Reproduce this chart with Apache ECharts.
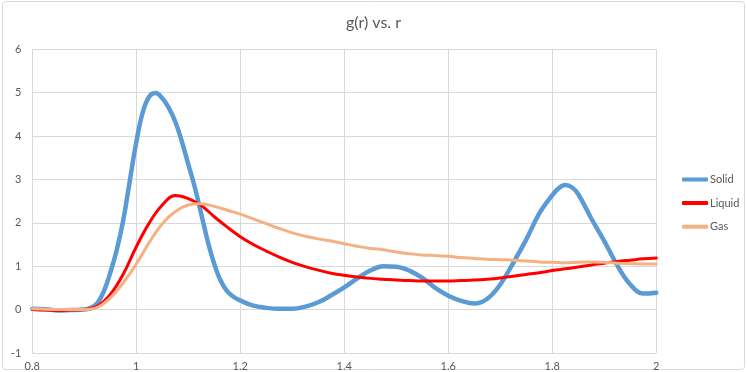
<!DOCTYPE html>
<html><head><meta charset="utf-8">
<script src="https://cdn.jsdelivr.net/npm/echarts@6/dist/echarts.min.js"></script>
<style>html,body{margin:0;padding:0;background:#fff}#c{width:747px;height:372px}</style>
</head><body><div id="c"></div>
<script>
const seriesNames = ['Solid', 'Liquid', 'Gas'];
const solidR = [0.8,0.825,0.85,0.875,0.9,0.9125,0.925,0.9375,0.95,0.9625,0.975,0.9875,1.0,1.0125,1.025,1.0375,1.05,1.0625,1.075,1.0875,1.1,1.1125,1.125,1.1375,1.15,1.1625,1.175,1.1875,1.2,1.225,1.25,1.275,1.3,1.325,1.35,1.375,1.4,1.425,1.45,1.475,1.5,1.525,1.55,1.575,1.6,1.625,1.65,1.675,1.7,1.725,1.75,1.775,1.8,1.8125,1.825,1.8375,1.85,1.875,1.9,1.925,1.95,1.975,2.0];
const solidG = [0.02,0.01,-0.02,-0.01,0,0.04,0.15,0.42,0.85,1.38,2.07,2.97,3.86,4.55,4.91,4.99,4.87,4.65,4.33,3.88,3.35,2.82,2.2,1.57,1.05,0.66,0.42,0.29,0.21,0.09,0.04,0.02,0.02,0.07,0.17,0.33,0.51,0.72,0.9,1.0,0.99,0.9,0.73,0.5,0.32,0.2,0.14,0.25,0.58,1.08,1.62,2.22,2.64,2.8,2.87,2.82,2.66,2.1,1.58,1.02,0.58,0.37,0.39];
const rValues = [0.8,0.825,0.85,0.875,0.9,0.925,0.95,0.975,1.0,1.025,1.05,1.075,1.1,1.125,1.15,1.175,1.2,1.225,1.25,1.275,1.3,1.325,1.35,1.375,1.4,1.425,1.45,1.475,1.5,1.525,1.55,1.575,1.6,1.625,1.65,1.675,1.7,1.725,1.75,1.775,1.8,1.825,1.85,1.875,1.9,1.925,1.95,1.975,2.0];
const liquidG = [0,-0.01,-0.02,-0.01,0,0.08,0.35,0.82,1.45,2.0,2.41,2.63,2.56,2.4,2.14,1.9,1.68,1.5,1.35,1.21,1.09,0.99,0.91,0.84,0.79,0.75,0.72,0.7,0.68,0.67,0.66,0.66,0.66,0.67,0.68,0.7,0.73,0.77,0.81,0.85,0.9,0.94,0.98,1.03,1.07,1.11,1.14,1.17,1.19];
const gasG = [0.02,0.01,0,0,0,0.05,0.27,0.62,1.05,1.55,1.98,2.26,2.41,2.44,2.38,2.29,2.2,2.09,1.98,1.87,1.77,1.69,1.63,1.58,1.52,1.46,1.41,1.38,1.33,1.29,1.26,1.25,1.23,1.2,1.18,1.16,1.15,1.14,1.12,1.1,1.09,1.08,1.09,1.1,1.09,1.07,1.06,1.05,1.05];

const pair = (xs, ys) => xs.map((x, i) => [x, ys[i]]);
const font = 'Lato, "Open Sans", sans-serif';
const chart = echarts.init(document.getElementById('c'));
chart.setOption({
  animation: false,
  title: { text: 'g(r) vs. r', left: 'center', top: 10,
    textStyle: { color: '#595959', fontSize: 16, fontWeight: 'normal', fontFamily: font } },
  graphic: [{ type: 'rect', shape: { x: 2.5, y: 1.5, width: 742, height: 368, r: 3 },
    style: { fill: 'none', stroke: '#d9d9d9', lineWidth: 1 }, silent: true }],
  legend: { orient: 'vertical', left: 677, top: 169, icon: 'roundRect', itemWidth: 26, itemHeight: 4, itemGap: 12.6,
    textStyle: { color: '#595959', fontSize: 11, fontFamily: font, padding: [0,0,0,-3] },
    data: seriesNames },
  grid: { left: 32.3, right: 90.7, top: 49.3, bottom: 16, containLabel: false },
  xAxis: { type: 'value', min: 0.8, max: 2, interval: 0.2,
    axisLine: { onZero: true, lineStyle: { color: '#d9d9d9' } },
    axisTick: { show: false },
    axisLabel: { color: '#595959', fontSize: 11, fontFamily: font, margin: 8,
      formatter: v => String(+v.toFixed(1)) },
    splitLine: { show: true, lineStyle: { color: '#d9d9d9' } } },
  yAxis: { type: 'value', min: -1, max: 6, interval: 1,
    axisLine: { show: false }, axisTick: { show: false },
    axisLabel: { color: '#595959', fontSize: 11, fontFamily: font, margin: 11 },
    splitLine: { show: true, lineStyle: { color: '#d9d9d9' } } },
  series: [
    { name: 'Solid', type: 'line', smooth: 0.4, symbol: 'none', data: pair(solidR, solidG),
      itemStyle: { color: '#5b9bd5' }, lineStyle: { color: '#5b9bd5', width: 4.5, cap: 'round' } },
    { name: 'Liquid', type: 'line', smooth: 0.4, symbol: 'none', data: pair(rValues, liquidG),
      itemStyle: { color: '#ff0000' }, lineStyle: { color: '#ff0000', width: 3, cap: 'round' } },
    { name: 'Gas', type: 'line', smooth: 0.4, symbol: 'none', data: pair(rValues, gasG),
      itemStyle: { color: '#f4b183' }, lineStyle: { color: '#f4b183', width: 3, cap: 'round' } }
  ]
});
</script></body></html>
